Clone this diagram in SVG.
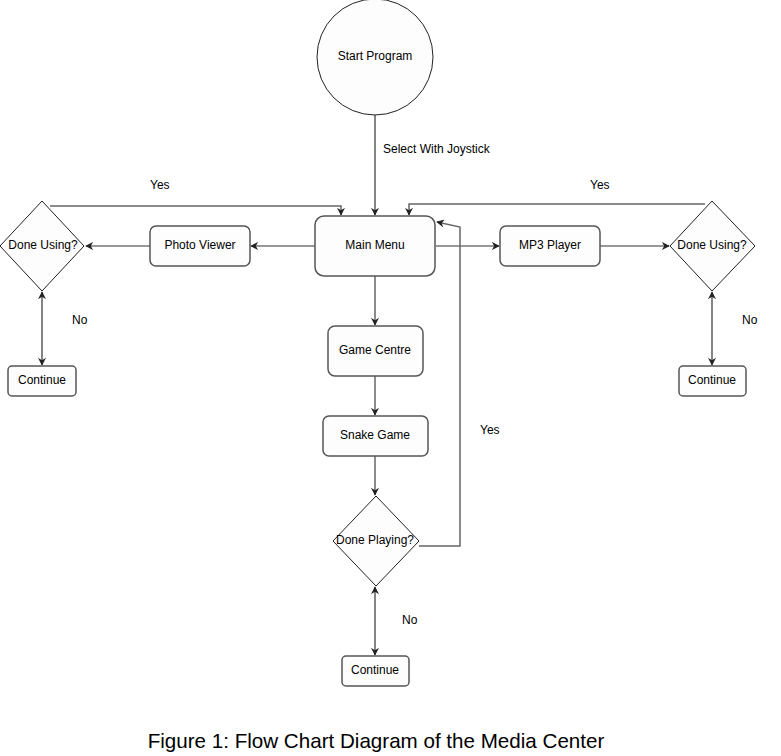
<svg xmlns="http://www.w3.org/2000/svg" width="781" height="756" viewBox="0 0 781 756">
<style>
text{font-family:"Liberation Sans",Arial,sans-serif;font-size:12px;fill:#000}
.t{text-anchor:middle;dominant-baseline:central}
.box{fill:#fdfdfd;stroke:#555;stroke-width:1.5}
.dia{fill:#fdfdfd;stroke:#222;stroke-width:1}
.ln{fill:none;stroke:#333;stroke-width:1.2}
.lg{fill:none;stroke:#666;stroke-width:1.5}
</style>
<defs>
<marker id="a" viewBox="0 0 10 10" refX="9" refY="5" markerWidth="8" markerHeight="8" markerUnits="userSpaceOnUse" orient="auto-start-reverse">
<path d="M0,0 L10,5 L0,10 L3,5 Z" fill="#222"/>
</marker>
</defs>
<rect width="781" height="756" fill="#fff"/>
<g id="connectors">
<path class="ln" d="M375,115 V215" marker-end="url(#a)"/>
<path class="ln" d="M315,246 H251" marker-end="url(#a)"/>
<path class="ln" d="M150,246 H86" marker-end="url(#a)"/>
<path class="lg" d="M50,206 H341 V215" marker-end="url(#a)"/>
<path class="ln" d="M42,292 V365" marker-start="url(#a)" marker-end="url(#a)"/>
<path class="ln" d="M436,246 H499" marker-end="url(#a)"/>
<path class="ln" d="M600,246 H669" marker-end="url(#a)"/>
<path class="lg" d="M705,204 H409 V215" marker-end="url(#a)"/>
<path class="ln" d="M712,292 V365" marker-start="url(#a)" marker-end="url(#a)"/>
<path class="lg" d="M375,276 V325" marker-end="url(#a)"/>
<path class="lg" d="M375,376 V415" marker-end="url(#a)"/>
<path class="lg" d="M375,456 V495" marker-end="url(#a)"/>
<path class="lg" d="M419,546 H460 V227 L437,222" marker-end="url(#a)"/>
<path class="ln" d="M375,587 V655" marker-start="url(#a)" marker-end="url(#a)"/>
</g>
<g id="labels">
<text x="383" y="153">Select With Joystick</text>
<text x="150" y="189">Yes</text>
<text x="590" y="189">Yes</text>
<text x="72" y="324">No</text>
<text x="742" y="324">No</text>
<text x="480" y="434">Yes</text>
<text x="402" y="624">No</text>
</g>
<g id="start">
<circle cx="375" cy="57" r="58" fill="#fdfdfd" stroke="#222" stroke-width="1"/>
<text class="t" x="375" y="56">Start Program</text>
</g>
<g id="main-menu">
<rect class="box" x="315" y="216" width="120" height="60" rx="9"/>
<text class="t" x="375" y="245">Main Menu</text>
</g>
<g id="photo-viewer">
<rect class="box" x="150" y="226" width="100" height="40" rx="6"/>
<text class="t" x="200" y="245">Photo Viewer</text>
</g>
<g id="done-left">
<polygon class="dia" points="42,201 84,246 42,291 0,246"/>
<text class="t" x="43" y="245">Done Using?</text>
</g>
<g id="continue-left">
<rect class="box" x="8" y="366" width="68" height="30" rx="4"/>
<text class="t" x="42" y="380">Continue</text>
</g>
<g id="mp3-player">
<rect class="box" x="500" y="226" width="100" height="40" rx="6"/>
<text class="t" x="550" y="245">MP3 Player</text>
</g>
<g id="done-right">
<polygon class="dia" points="712,201 755,246 712,291 670,246"/>
<text class="t" x="712" y="245">Done Using?</text>
</g>
<g id="continue-right">
<rect class="box" x="679" y="366" width="67" height="30" rx="4"/>
<text class="t" x="712" y="380">Continue</text>
</g>
<g id="game-centre">
<rect class="box" x="328" y="326" width="95" height="50" rx="7"/>
<text class="t" x="375" y="350">Game Centre</text>
</g>
<g id="snake-game">
<rect class="box" x="323" y="416" width="105" height="40" rx="6"/>
<text class="t" x="375" y="435">Snake Game</text>
</g>
<g id="done-playing">
<polygon class="dia" points="376,496 419,541 376,586 333,541"/>
<text class="t" x="375" y="540">Done Playing?</text>
</g>
<g id="continue-bottom">
<rect class="box" x="342" y="656" width="67" height="30" rx="4"/>
<text class="t" x="375" y="670">Continue</text>
</g>
<text x="376" y="748" text-anchor="middle" style="font-size:20.6px">Figure 1: Flow Chart Diagram of the Media Center</text>
</svg>
